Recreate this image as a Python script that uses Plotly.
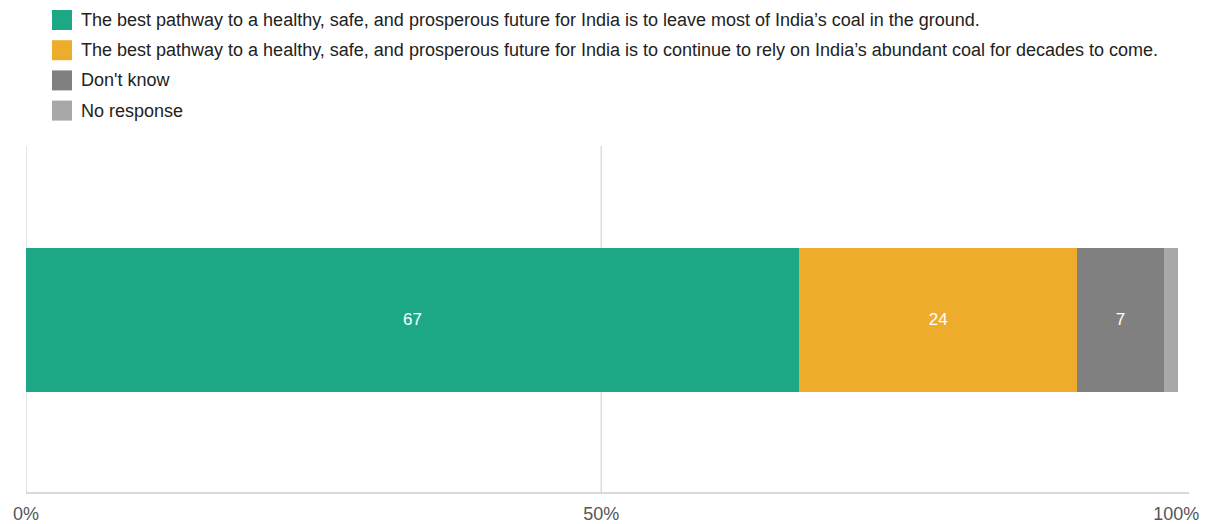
import plotly.graph_objects as go

categories = ["Q"]
series_names = [
    "The best pathway to a healthy, safe, and prosperous future for India is to leave most of India\u2019s coal in the ground.",
    "The best pathway to a healthy, safe, and prosperous future for India is to continue to rely on India\u2019s abundant coal for decades to come.",
    "Don't know",
    "No response",
]
series_values = [67.2, 24.2, 7.5, 1.2]
series_labels = ["67", "24", "7", ""]
colors = ["#1ca884", "#edac2b", "#808080", "#a8a8a8"]
tick_vals = [0, 50, 100]
tick_text = ["0%", "50%", "100%"]

# page body has an 8px margin, so figure is sized/positioned accordingly
OFF = 8
W, H = 1207 - OFF, 524 - OFF
ml, mr, mt, mb = 26 - OFF, 18, 146 - OFF, 31
pw, ph = W - ml - mr, H - mt - mb

def px_x(x):
    return (x - OFF - ml) / pw

def px_y(y):
    return (H - mb - (y - OFF)) / ph

fig = go.Figure()
for name, v, lab, c in zip(series_names, series_values, series_labels, colors):
    fig.add_trace(go.Bar(
        x=[v], y=categories, orientation="h", name=name,
        marker=dict(color=c, line=dict(width=0)),
        text=[lab], textposition="inside", insidetextanchor="middle",
        textfont=dict(color="white", size=17, family="Liberation Sans, Arial"),
        showlegend=False, hoverinfo="skip",
    ))

shapes = []
annotations = []
for gv in [0, 50]:
    shapes.append(dict(type="line", xref="x", yref="paper", x0=gv, x1=gv, y0=0, y1=1,
                       line=dict(color="#cccccc", width=1), layer="below"))
shapes.append(dict(type="line", xref="paper", yref="paper", x0=0, x1=1, y0=0, y1=0,
                   line=dict(color="#cccccc", width=1.5), layer="above"))

for i, (name, c) in enumerate(zip(series_names, colors)):
    cy = 20 + i * 30.2
    shapes.append(dict(type="rect", xref="paper", yref="paper",
                       x0=px_x(52), x1=px_x(72), y0=px_y(cy - 10), y1=px_y(cy + 10),
                       fillcolor=c, line=dict(width=0)))
    annotations.append(dict(xref="paper", yref="paper", x=px_x(79), y=px_y(cy),
                            xanchor="left", yanchor="middle", showarrow=False,
                            text=name, font=dict(size=18, color="#222222",
                                                 family="Liberation Sans, Arial")))

fig.update_layout(
    width=W, height=H,
    margin=dict(l=ml, r=mr, t=mt, b=mb, autoexpand=False),
    paper_bgcolor="white", plot_bgcolor="white",
    barmode="stack", bargap=0.585,
    xaxis=dict(range=[0, 101.1], tickvals=tick_vals, ticktext=tick_text,
               showgrid=False, zeroline=False, showline=False,
               ticks="outside", ticklen=4, tickcolor="rgba(0,0,0,0)",
               automargin=False,
               tickfont=dict(size=18, color="#555555", family="Liberation Sans, Arial"),
               fixedrange=True),
    yaxis=dict(showticklabels=False, showgrid=False, zeroline=False, range=[-0.5, 0.5],
               automargin=False, fixedrange=True),
    shapes=shapes, annotations=annotations,
    uniformtext=dict(mode="show", minsize=8),
)

fig.write_html("out.html")
